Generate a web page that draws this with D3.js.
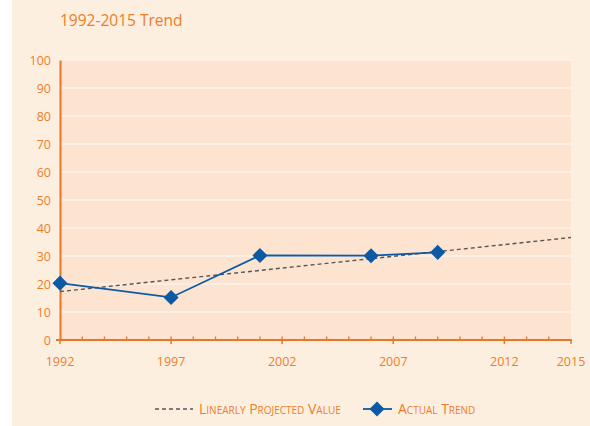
<!DOCTYPE html>
<html>
<head>
<meta charset="utf-8">
<script src="https://cdn.jsdelivr.net/npm/d3@7"></script>
<style>
  html, body { margin: 0; padding: 0; background: #ffffff; }
  svg { display: block; font-family: "Open Sans", "Lato", sans-serif; }
</style>
</head>
<body>
<svg id="chart" width="590" height="426"></svg>
<script>
// Actual observations
const actualYears = [1992, 1997, 2001, 2006, 2009];
const actualValues = [20.3, 15.2, 30.2, 30.1, 31.3];

// Linear projection endpoints
const projYears = [1992, 2015];
const projValues = [17.3, 36.6];

// Axis ticks
const yTicks = [0, 10, 20, 30, 40, 50, 60, 70, 80, 90, 100];
const xLabelYears = [1992, 1997, 2002, 2007, 2012, 2015];

const orange = "#ee7d2b";
const axisOrange = "#e8772a";
const blue = "#0c5aa6";

const svg = d3.select("#chart");

// Panel background
svg.append("rect").attr("x", 12).attr("y", 0).attr("width", 578).attr("height", 426).attr("fill", "#fdefe0");

const m = { left: 60, right: 571, top: 60, bottom: 340 };
const x = d3.scaleLinear().domain([1992, 2015]).range([m.left, m.right]);
const y = d3.scaleLinear().domain([0, 100]).range([m.bottom, m.top]);

// Plot background
svg.append("rect").attr("x", m.left).attr("y", m.top)
  .attr("width", m.right - m.left).attr("height", m.bottom - m.top)
  .attr("fill", "#fde4d1");

// Horizontal grid
svg.append("g").selectAll("line").data(yTicks.filter(d => d > 0)).join("line")
  .attr("x1", m.left).attr("x2", m.right)
  .attr("y1", d => y(d)).attr("y2", d => y(d))
  .attr("stroke", "#fdf3ea").attr("stroke-width", 1.5);

// Title
svg.append("text").attr("x", 60).attr("y", 26)
  .attr("fill", orange).attr("font-size", 15.5).text("1992-2015 Trend");

// Y axis
const yAxis = svg.append("g").attr("transform", `translate(${m.left},0)`)
  .call(d3.axisLeft(y).tickValues(yTicks).tickSize(0).tickPadding(9));
yAxis.select(".domain").attr("stroke", axisOrange).attr("stroke-width", 2);
yAxis.selectAll("text").attr("fill", orange).attr("font-size", 12.5).attr("font-family", "Open Sans");

// X axis: yearly minor ticks pointing up, labelled ticks pointing down
const xg = svg.append("g").attr("transform", `translate(0,${m.bottom})`);
xg.append("line").attr("x1", m.left - 4).attr("x2", m.right + 1)
  .attr("stroke", axisOrange).attr("stroke-width", 2);
xg.selectAll("line.minor").data(d3.range(1993, 2015)).join("line").attr("class", "minor")
  .attr("x1", d => x(d)).attr("x2", d => x(d)).attr("y1", 0).attr("y2", -3.5)
  .attr("stroke", axisOrange).attr("stroke-width", 1.3);
xg.selectAll("line.major").data(xLabelYears).join("line").attr("class", "major")
  .attr("x1", d => x(d)).attr("x2", d => x(d)).attr("y1", 0).attr("y2", 4)
  .attr("stroke", axisOrange).attr("stroke-width", 1.5);
xg.selectAll("text").data(xLabelYears).join("text")
  .attr("x", d => x(d)).attr("y", 26).attr("text-anchor", "middle")
  .attr("fill", orange).attr("font-size", 12.5).attr("font-family", "Open Sans")
  .text(d => d);

// Projection line
const proj = projYears.map((d, i) => [d, projValues[i]]);
svg.append("path").datum(proj)
  .attr("d", d3.line().x(d => x(d[0])).y(d => y(d[1])))
  .attr("fill", "none").attr("stroke", "#555").attr("stroke-width", 1.4)
  .attr("stroke-dasharray", "4,3");

// Actual trend
const actual = actualYears.map((d, i) => [d, actualValues[i]]);
svg.append("path").datum(actual)
  .attr("d", d3.line().x(d => x(d[0])).y(d => y(d[1])))
  .attr("fill", "none").attr("stroke", blue).attr("stroke-width", 1.8);

const diamond = d3.symbol().type(d3.symbolDiamond2).size(145);
svg.append("g").selectAll("path").data(actual).join("path")
  .attr("transform", d => `translate(${x(d[0])},${y(d[1])})`)
  .attr("d", diamond).attr("fill", blue);

// Legend
const lg = svg.append("g").attr("transform", "translate(0,409)");
lg.append("line").attr("x1", 155).attr("x2", 193).attr("y1", 0).attr("y2", 0)
  .attr("stroke", "#555").attr("stroke-width", 1.4).attr("stroke-dasharray", "4,3");
lg.append("text").attr("x", 199).attr("y", 5)
  .attr("fill", orange).attr("font-size", 14).style("font-variant", "small-caps")
  .attr("font-family", "Open Sans").text("Linearly Projected Value");
lg.append("line").attr("x1", 363).attr("x2", 392).attr("y1", 0).attr("y2", 0)
  .attr("stroke", blue).attr("stroke-width", 1.8);
lg.append("path").attr("transform", "translate(377,0)").attr("d", diamond).attr("fill", blue);
lg.append("text").attr("x", 398).attr("y", 5)
  .attr("fill", orange).attr("font-size", 14).style("font-variant", "small-caps")
  .attr("font-family", "Open Sans").text("Actual Trend");
</script>
</body>
</html>
